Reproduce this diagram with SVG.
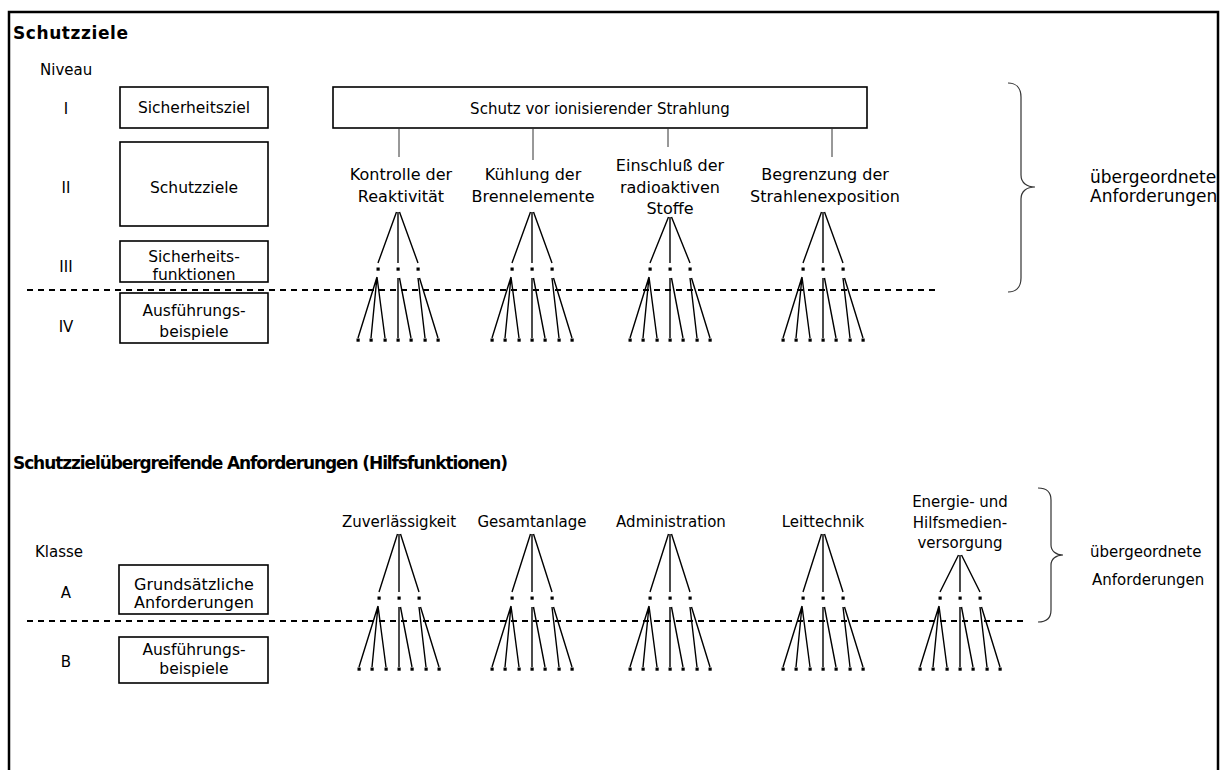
<svg xmlns="http://www.w3.org/2000/svg" xmlns:xlink="http://www.w3.org/1999/xlink" width="1231" height="770" viewBox="0 0 1231 770">
<style>
  text { font-family: "DejaVu Sans", "Liberation Sans", sans-serif; font-size: 15px; fill: #000; }
  .c { text-anchor: middle; }
  .h { font-weight: bold; font-size: 17px; }
  .lbl { font-size: 16px; }
  .bx { font-size: 15.5px; }
  .box { fill: #fff; stroke: #000; stroke-width: 1.6; }
  .ln { stroke: #000; stroke-width: 1.4; fill: none; }
  .thin { stroke: #333; stroke-width: 1; fill: none; }
  .dash { stroke: #000; stroke-width: 2; stroke-dasharray: 6 5; fill: none; }
  .brace { stroke: #333; stroke-width: 1.2; fill: none; }
  .frame { stroke: #000; stroke-width: 2.5; fill: none; }
</style>
<defs>
  <g id="lower">
    <rect x="-21.5" y="-1.5" width="3.2" height="3.2"/>
    <rect x="-1.5" y="-1.5" width="3.2" height="3.2"/>
    <rect x="18.5" y="-1.5" width="3.2" height="3.2"/>
    <path class="ln" d="M-21,8 L-40,69 M-21,8 L-27,69 M-21,8 L-13,69 M0,9 L0,69 M1.5,9 L13,69 M20,9 L27,69 M21.5,9 L40,69"/>
    <rect x="-41.5" y="69.5" width="3.2" height="3.2"/>
    <rect x="-28.5" y="69.5" width="3.2" height="3.2"/>
    <rect x="-14.5" y="69.5" width="3.2" height="3.2"/>
    <rect x="-1.5" y="69.5" width="3.2" height="3.2"/>
    <rect x="11.5" y="69.5" width="3.2" height="3.2"/>
    <rect x="25.5" y="69.5" width="3.2" height="3.2"/>
    <rect x="38.5" y="69.5" width="3.2" height="3.2"/>
  </g>
</defs>

<path class="frame" d="M9,770 L9,12 L1218,12 L1218,770"/>

<text class="h" x="13" y="39" textLength="115">Schutzziele</text>
<text x="40" y="75">Niveau</text>
<text class="c" x="66" y="114">I</text>
<text class="c" x="66" y="193">II</text>
<text class="c" x="66" y="272">III</text>
<text class="c" x="66" y="332">IV</text>

<g id="n-sicherheitsziel">
  <rect class="box" x="120" y="87" width="148" height="41"/>
  <text class="c bx" x="194" y="113">Sicherheitsziel</text>
</g>
<g id="n-schutzziele">
  <rect class="box" x="120" y="142" width="148" height="84"/>
  <text class="c bx" x="194" y="193">Schutzziele</text>
</g>
<g id="n-sicherheitsfunktionen">
  <rect class="box" x="120" y="241" width="148" height="41"/>
  <text class="c bx" x="194" y="262">Sicherheits-</text>
  <text class="c bx" x="194" y="280">funktionen</text>
</g>
<g id="n-ausfuehrung1">
  <rect class="box" x="120" y="293" width="148" height="50"/>
  <text class="c bx" x="194" y="316">Ausführungs-</text>
  <text class="c bx" x="194" y="337">beispiele</text>
</g>

<g id="n-schutz">
  <rect class="box" x="333" y="87" width="534" height="41"/>
  <text class="c" x="600" y="114">Schutz vor ionisierender Strahlung</text>
</g>

<g id="connectors">
  <path class="thin" d="M399,128 L399,157 M533,128 L533,160 M668,128 L668,147 M832,128 L832,157"/>
  <path class="dash" d="M27,290 L935,290"/>
  <path class="dash" d="M27,621 L1028,621"/>
  <path class="brace" d="M1008,83 C1016,83 1021,88 1021,97 L1021,175 C1021,183 1027,187 1035,187 C1027,187 1021,191 1021,199 L1021,278 C1021,287 1016,292 1008,292"/>
  <path class="brace" d="M1038,488 C1046,488 1051,492 1051,500 L1051,545 C1051,551 1056,555 1063,555 C1056,555 1051,559 1051,565 L1051,610 C1051,618 1046,622 1038,622"/>
</g>

<g id="n-kontrolle">
  <text class="c lbl" x="401" y="180">Kontrolle der</text>
  <text class="c lbl" x="401" y="202">Reaktivität</text>
</g>
<g id="n-kuehlung">
  <text class="c lbl" x="533" y="180">Kühlung der</text>
  <text class="c lbl" x="533" y="202">Brennelemente</text>
</g>
<g id="n-einschluss">
  <text class="c lbl" x="670" y="171">Einschluß der</text>
  <text class="c lbl" x="670" y="193">radioaktiven</text>
  <text class="c lbl" x="670" y="214">Stoffe</text>
</g>
<g id="n-begrenzung">
  <text class="c lbl" x="825" y="180">Begrenzung der</text>
  <text class="c lbl" x="825" y="202">Strahlenexposition</text>
</g>

<g id="tree-top-1">
  <path class="ln" d="M396.5,212 L378,263 M398,212 L398,263 M399.5,212 L418,263"/>
  <use xlink:href="#lower" href="#lower" x="398" y="269"/>
</g>
<g id="tree-top-2">
  <path class="ln" d="M530.5,212 L512,263 M532,212 L532,263 M533.5,212 L552,263"/>
  <use xlink:href="#lower" href="#lower" x="532" y="269"/>
</g>
<g id="tree-top-3">
  <path class="ln" d="M668.5,217 L650,263 M670,217 L670,263 M671.5,217 L690,263"/>
  <use xlink:href="#lower" href="#lower" x="670" y="269"/>
</g>
<g id="tree-top-4">
  <path class="ln" d="M821.5,212 L803,263 M823,212 L823,263 M824.5,212 L843,263"/>
  <use xlink:href="#lower" href="#lower" x="823" y="269"/>
</g>

<g id="n-uebergeordnete1">
  <text x="1090" y="183" style="font-size:17px">übergeordnete</text>
  <text x="1090" y="202" style="font-size:17px">Anforderungen</text>
</g>

<text class="h" x="13" y="469" textLength="495">Schutzzielübergreifende Anforderungen (Hilfsfunktionen)</text>

<text x="35" y="557">Klasse</text>
<text class="c" x="66" y="598">A</text>
<text class="c" x="66" y="667">B</text>

<g id="n-grundsaetzlich">
  <rect class="box" x="119" y="565" width="149" height="49"/>
  <text class="c" x="194" y="590" style="font-size:16px">Grundsätzliche</text>
  <text class="c" x="194" y="608" style="font-size:16px">Anforderungen</text>
</g>
<g id="n-ausfuehrung2">
  <rect class="box" x="119" y="637" width="149" height="46"/>
  <text class="c bx" x="194" y="655">Ausführungs-</text>
  <text class="c bx" x="194" y="674">beispiele</text>
</g>

<g id="n-zuverlaessigkeit"><text class="c" x="399" y="527">Zuverlässigkeit</text></g>
<g id="n-gesamtanlage"><text class="c" x="532" y="527">Gesamtanlage</text></g>
<g id="n-administration"><text class="c" x="671" y="527">Administration</text></g>
<g id="n-leittechnik"><text class="c" x="823" y="527">Leittechnik</text></g>
<g id="n-energie">
  <text class="c" x="960" y="507">Energie- und</text>
  <text class="c" x="960" y="528">Hilfsmedien-</text>
  <text class="c" x="960" y="548">versorgung</text>
</g>

<g id="tree-bot-1">
  <path class="ln" d="M397.5,534 L379,592 M399,534 L399,592 M400.5,534 L419,592"/>
  <use xlink:href="#lower" href="#lower" x="399" y="598"/>
</g>
<g id="tree-bot-2">
  <path class="ln" d="M530.5,534 L512,592 M532,534 L532,592 M533.5,534 L552,592"/>
  <use xlink:href="#lower" href="#lower" x="532" y="598"/>
</g>
<g id="tree-bot-3">
  <path class="ln" d="M668.5,534 L650,592 M670,534 L670,592 M671.5,534 L690,592"/>
  <use xlink:href="#lower" href="#lower" x="670" y="598"/>
</g>
<g id="tree-bot-4">
  <path class="ln" d="M821.5,534 L803,592 M823,534 L823,592 M824.5,534 L843,592"/>
  <use xlink:href="#lower" href="#lower" x="823" y="598"/>
</g>
<g id="tree-bot-5">
  <path class="ln" d="M958.5,555 L940,592 M960,555 L960,592 M961.5,555 L980,592"/>
  <use xlink:href="#lower" href="#lower" x="960" y="598"/>
</g>

<g id="n-uebergeordnete2">
  <text x="1090" y="557">übergeordnete</text>
  <text x="1092" y="585">Anforderungen</text>
</g>
</svg>
